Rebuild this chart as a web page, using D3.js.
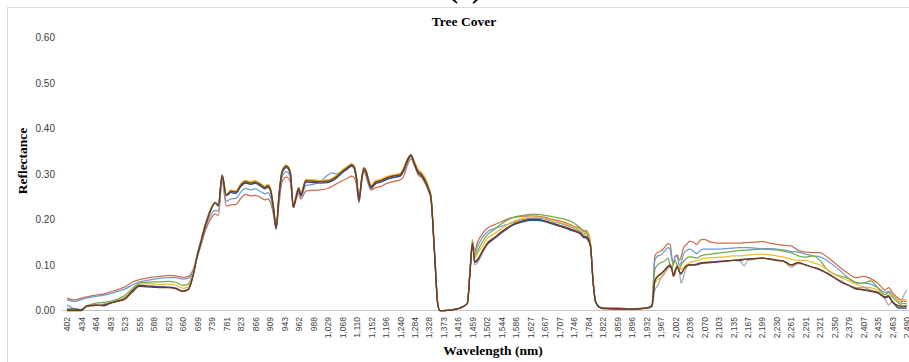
<!DOCTYPE html>
<html>
<head>
<meta charset="utf-8">
<script src="https://cdn.jsdelivr.net/npm/d3@7"></script>
<style>
  body { margin: 0; background: #fff; }
  svg { display: block; }
</style>
</head>
<body>
<svg id="chart" width="909" height="362"></svg>
<script>
// Labelled wavelengths on the category axis (nm)
const tickWavelengths = [402,434,464,493,523,555,588,623,660,699,739,781,823,866,909,943,962,988,
  1029,1068,1110,1152,1196,1240,1284,1328,1373,1416,1459,1502,1544,1586,1627,1667,1707,1746,1784,
  1822,1859,1896,1932,1967,2002,2036,2070,2103,2135,2167,2199,2230,2261,2291,2321,2350,2379,2407,
  2435,2463,2490];
const yTicks = [0, 0.1, 0.2, 0.3, 0.4, 0.5, 0.6];

// Sampled wavelengths (nm) shared by every spectrum
const wavelengths = [
  402,418,434,445,464,478,493,508,523,539,555,571,588,605,623,641,660,675,680,690,699,709,719,729,739,749,758,769,781,
  795,809,823,837,852,866,880,895,903,911,918,924,931,938,946,951,955,958,962,966,975,988,1008,1029,1040,1050,1068,1082,1096,1103,
  1110,1117,1124,1131,1138,1145,1152,1166,1181,1196,1218,1240,1251,1262,1273,1284,1295,1306,1317,1328,1334,1345,1356,
  1362,1373,1395,1416,1430,1444,1452,
  1459,1466,1474,1488,1502,1523,1544,1565,1586,1607,1627,1647,1667,1687,1707,1727,1746,1765,1772,1778,1784,1790,1797,
  1803,1812,1822,1859,1896,1932,1946,
  1953,1960,1967,1976,1985,1990,1994,1998,2002,2007,2012,2016,2022,2029,2036,2045,2053,2062,2070,2086,
  2103,2119,2135,2151,2160,2167,2183,2199,2215,2230,2246,2261,2276,2291,2306,2321,2335,2350,2364,2379,
  2393,2407,2421,2435,2449,2456,2463,2476,2483,2490
];

// Reflectance spectra of the tree-cover samples
const sample1 = [
  .027,.023,.027,.030,.034,.036,.041,.046,.052,.062,.068,.071,.074,.075,.077,.076,.073,.075,.078,.095,.118,.143,.170,.190,.205,.212,.208,.285,.230,
  .232,.233,.246,.255,.252,.253,.249,.243,.245,.237,.210,.178,.235,.282,.293,.283,.226,.240,.258,.245,.262,.264,.265,.268,.272,.277,.285,.290,.295,.292,
  .275,.236,.278,.305,.293,.275,.265,.270,.272,.278,.283,.287,.295,.318,.333,.318,.298,.292,.278,.260,.245,.130,.010,
  .000,.000,.001,.004,.008,.016,.085,
  .148,.130,.150,.168,.180,.188,.195,.202,.205,.207,.208,.207,.205,.200,.197,.192,.185,.180,.172,.176,.168,.145,.060,
  .020,.008,.005,.004,.003,.005,.012,
  .120,.128,.130,.138,.147,.145,.118,.100,.118,.122,.110,.118,.138,.145,.152,.150,.145,.155,.156,.150,
  .148,.148,.148,.148,.149,.149,.150,.152,.148,.145,.143,.142,.132,.128,.127,.127,.118,.105,.092,.080,
  .072,.075,.070,.060,.045,.050,.040,.025,.020,.020
];
const sample2 = [
  .024,.020,.024,.027,.031,.033,.037,.042,.047,.056,.063,.066,.069,.071,.072,.072,.069,.071,.074,.092,.118,.145,.175,.197,.213,.220,.218,.290,.240,
  .245,.246,.260,.268,.265,.267,.262,.256,.259,.250,.215,.180,.245,.293,.305,.293,.228,.243,.262,.250,.275,.277,.283,.297,.302,.300,.306,.310,.318,.312,
  .285,.240,.280,.308,.300,.280,.268,.278,.282,.287,.292,.295,.305,.326,.338,.320,.302,.295,.282,.262,.250,.130,.010,
  .000,.000,.001,.004,.008,.016,.088,
  .152,.125,.140,.160,.172,.180,.185,.190,.195,.200,.202,.203,.201,.196,.192,.187,.180,.172,.165,.170,.160,.145,.060,
  .020,.008,.006,.005,.004,.006,.011,
  .110,.120,.122,.130,.138,.135,.112,.105,.120,.118,.100,.105,.125,.132,.135,.130,.125,.133,.135,.135,
  .135,.136,.137,.138,.138,.138,.137,.136,.136,.135,.133,.130,.128,.124,.120,.118,.110,.098,.085,.070,
  .060,.060,.058,.050,.040,.042,.035,.020,.015,.015
];
const sample3 = [
  .012,.004,.002,.010,.016,.018,.020,.025,.033,.048,.060,.062,.063,.063,.064,.062,.055,.058,.065,.092,.125,.155,.185,.210,.228,.238,.232,.298,.255,
  .264,.262,.277,.285,.282,.284,.279,.272,.276,.267,.227,.184,.257,.307,.319,.305,.230,.247,.270,.257,.287,.286,.285,.286,.289,.294,.307,.315,.322,.317,
  .292,.245,.287,.314,.307,.287,.274,.284,.287,.292,.297,.300,.312,.332,.342,.325,.307,.300,.287,.267,.252,.132,.010,
  .000,.000,.001,.004,.008,.016,.090,
  .155,.120,.130,.150,.165,.178,.190,.200,.206,.209,.211,.211,.209,.206,.203,.199,.192,.180,.175,.172,.168,.145,.060,
  .020,.009,.006,.005,.004,.006,.010,
  .090,.100,.105,.108,.115,.100,.090,.105,.110,.098,.090,.100,.108,.115,.118,.117,.115,.120,.122,.124,
  .126,.128,.130,.132,.132,.133,.134,.135,.134,.133,.130,.127,.120,.117,.120,.110,.090,.080,.075,.070,
  .062,.060,.065,.050,.035,.040,.030,.015,.010,.010
];
const sample4 = [
  .000,.000,.000,.008,.011,.012,.017,.022,.029,.045,.058,.059,.058,.057,.058,.056,.049,.052,.060,.090,.122,.153,.183,.208,.228,.238,.232,.298,.255,
  .265,.263,.278,.286,.283,.285,.280,.273,.277,.268,.228,.185,.258,.308,.318,.306,.231,.248,.271,.258,.288,.287,.286,.287,.290,.295,.308,.316,.322,.318,
  .293,.246,.288,.315,.308,.288,.275,.285,.288,.293,.298,.301,.313,.332,.341,.327,.310,.303,.291,.270,.255,.135,.012,
  .000,.000,.001,.004,.008,.016,.090,
  .153,.115,.125,.140,.158,.168,.180,.190,.198,.203,.205,.205,.203,.198,.194,.189,.183,.176,.170,.168,.172,.145,.060,
  .020,.007,.004,.003,.003,.004,.009,
  .060,.068,.072,.085,.095,.100,.090,.080,.090,.102,.095,.090,.095,.100,.105,.108,.110,.112,.115,.116,
  .117,.118,.120,.120,.121,.122,.123,.124,.122,.120,.117,.113,.110,.110,.105,.100,.090,.080,.072,.065,
  .058,.052,.050,.045,.030,.035,.035,.020,.025,.020
];
const sample5 = [
  .003,.002,.000,.010,.013,.014,.018,.022,.028,.042,.055,.054,.053,.052,.052,.050,.043,.047,.057,.088,.122,.152,.182,.207,.227,.237,.232,.298,.254,
  .261,.259,.274,.282,.279,.281,.276,.269,.273,.264,.224,.181,.254,.304,.316,.302,.227,.250,.270,.254,.284,.283,.282,.283,.286,.291,.304,.312,.319,.314,
  .289,.242,.284,.311,.304,.284,.271,.281,.284,.289,.294,.297,.309,.329,.341,.322,.304,.297,.284,.264,.249,.129,.010,
  .000,.000,.001,.004,.008,.016,.085,
  .150,.100,.105,.125,.143,.158,.172,.183,.192,.197,.200,.200,.197,.192,.187,.182,.176,.168,.163,.158,.152,.140,.060,
  .020,.008,.005,.004,.004,.005,.008,
  .045,.055,.070,.080,.093,.095,.090,.075,.080,.100,.085,.060,.075,.095,.100,.100,.102,.105,.106,.107,
  .108,.109,.110,.108,.098,.110,.113,.115,.114,.112,.108,.095,.103,.100,.095,.088,.082,.072,.065,.055,
  .050,.050,.045,.040,.025,.012,.020,.005,.030,.045
];
const sample6 = [
  .003,.003,.002,.010,.012,.010,.016,.021,.026,.043,.055,.054,.053,.052,.051,.049,.042,.046,.055,.085,.120,.150,.180,.205,.226,.236,.230,.296,.253,
  .259,.257,.272,.280,.277,.279,.274,.267,.271,.262,.222,.180,.252,.302,.314,.300,.226,.243,.265,.252,.282,.281,.280,.281,.284,.289,.302,.310,.317,.312,
  .287,.241,.282,.309,.302,.282,.269,.279,.282,.287,.292,.295,.307,.327,.340,.320,.302,.295,.282,.262,.248,.128,.010,
  .000,.000,.001,.004,.008,.016,.085,
  .145,.105,.110,.128,.145,.158,.170,.182,.190,.195,.198,.198,.195,.190,.185,.180,.174,.167,.160,.160,.155,.140,.060,
  .020,.008,.004,.003,.003,.005,.010,
  .065,.075,.080,.088,.097,.100,.092,.078,.085,.097,.085,.080,.090,.098,.100,.100,.100,.103,.104,.105,
  .107,.108,.110,.110,.112,.113,.114,.115,.113,.110,.108,.100,.105,.100,.095,.090,.082,.072,.062,.055,
  .047,.045,.042,.038,.030,.032,.020,.005,.005,.005
];
const sample7 = [
  .000,.000,.000,.010,.011,.012,.016,.020,.025,.040,.053,.052,.051,.050,.050,.048,.042,.046,.055,.085,.120,.150,.180,.205,.226,.236,.230,.296,.253,
  .262,.260,.275,.283,.280,.282,.277,.270,.274,.265,.225,.182,.255,.305,.317,.303,.228,.245,.268,.255,.285,.284,.283,.284,.287,.292,.305,.313,.320,.315,
  .290,.243,.285,.312,.305,.285,.272,.282,.285,.290,.295,.298,.310,.330,.342,.323,.305,.298,.285,.265,.250,.130,.010,
  .000,.000,.001,.004,.008,.016,.088,
  .148,.108,.112,.130,.147,.160,.173,.184,.192,.197,.200,.200,.197,.192,.187,.182,.176,.169,.162,.163,.158,.140,.060,
  .020,.008,.005,.004,.003,.005,.010,
  .065,.075,.080,.088,.097,.098,.090,.075,.088,.095,.085,.082,.090,.098,.100,.100,.102,.104,.105,.106,
  .108,.109,.110,.112,.113,.113,.114,.115,.113,.110,.108,.100,.105,.100,.095,.090,.082,.072,.062,.055,
  .048,.046,.043,.040,.028,.030,.018,.010,.008,.010
];

const seriesValues = [sample1, sample2, sample3, sample4, sample5, sample6, sample7];
const seriesColors = ["#CD6E50", "#6E9BD3", "#70AD47", "#F2B830", "#A8A8A8", "#2F4B8A", "#7A3A12"];

const svg = d3.select("#chart");

// Outer chart frame
svg.append("rect")
  .attr("x", 7.5).attr("y", 7.5)
  .attr("width", 920).attr("height", 370)
  .attr("fill", "none").attr("stroke", "#d9d9d9").attr("stroke-width", 1);

// Panel letter above the frame
svg.append("text")
  .attr("x", 465).attr("y", -2)
  .attr("text-anchor", "middle")
  .style("font-family", "'Liberation Serif', serif")
  .style("font-size", "28px").style("font-weight", "bold")
  .text("(a)");

// Scales: labelled wavelengths sit at equal spacing along the category axis
const xLeft = 67, xRight = 906.8;
const step = (xRight - xLeft) / (tickWavelengths.length - 1);
const x = d3.scaleLinear()
  .domain(tickWavelengths)
  .range(tickWavelengths.map((d, i) => xLeft + i * step));
const y = d3.scaleLinear().domain([0, 0.6]).range([310.5, 37.3]);

// Y axis
const yAxis = svg.append("g")
  .attr("transform", "translate(62,0)")
  .call(d3.axisLeft(y).tickValues(yTicks).tickFormat(d3.format(".2f")).tickSize(0).tickPadding(7));
yAxis.select(".domain").remove();
yAxis.selectAll("text")
  .style("font-family", "'Liberation Sans', Arial, sans-serif")
  .style("font-size", "10px").attr("fill", "#404040");

// Category axis line
svg.append("line")
  .attr("x1", 62).attr("x2", 912)
  .attr("y1", y(0)).attr("y2", y(0))
  .attr("stroke", "#c4c4c4").attr("stroke-width", 1);

// X axis with vertical labels
const xAxis = svg.append("g")
  .attr("transform", `translate(0,${y(0)})`)
  .call(d3.axisBottom(x).tickValues(tickWavelengths).tickFormat(d3.format(",")).tickSize(0));
xAxis.select(".domain").remove();
xAxis.selectAll("text")
  .attr("transform", "rotate(-90)")
  .attr("text-anchor", "end")
  .attr("x", -6.5).attr("y", 0).attr("dy", "0.35em")
  .style("font-family", "'Liberation Sans', Arial, sans-serif")
  .style("font-size", "8.5px").attr("fill", "#404040");

// Spectra
const line = d3.line()
  .defined(d => d != null)
  .x(d => x(d[0]))
  .y(d => y(d[1]))
  .curve(d3.curveMonotoneX);

svg.append("g").selectAll("path")
  .data(seriesValues)
  .join("path")
  .attr("d", vals => line(wavelengths.map((w, i) => [w, vals[i]])))
  .attr("fill", "none")
  .attr("stroke", (d, i) => seriesColors[i])
  .attr("stroke-width", 1.25)
  .attr("stroke-linejoin", "round");

// Titles
svg.append("text")
  .attr("x", 464).attr("y", 26)
  .attr("text-anchor", "middle")
  .style("font-family", "'Liberation Serif', serif")
  .style("font-size", "13.5px").style("font-weight", "bold")
  .text("Tree Cover");

svg.append("text")
  .attr("x", 493).attr("y", 355)
  .attr("text-anchor", "middle")
  .style("font-family", "'Liberation Serif', serif")
  .style("font-size", "13.5px").style("font-weight", "bold")
  .text("Wavelength (nm)");

svg.append("text")
  .attr("transform", "translate(27,161) rotate(-90)")
  .attr("text-anchor", "middle")
  .style("font-family", "'Liberation Serif', serif")
  .style("font-size", "13.5px").style("font-weight", "bold")
  .text("Reflectance");
</script>
</body>
</html>
